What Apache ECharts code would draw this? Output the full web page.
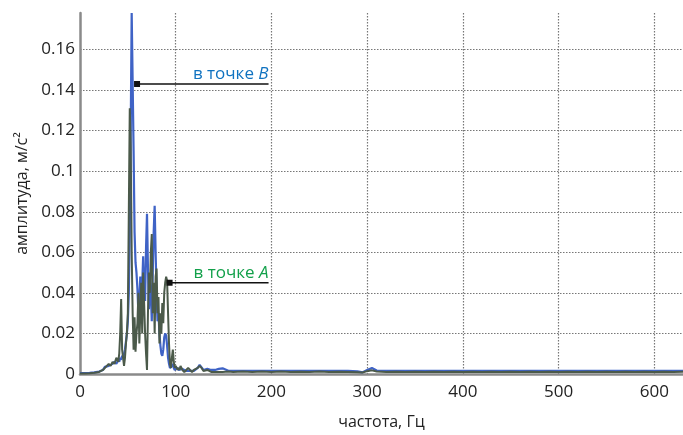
<!DOCTYPE html>
<html>
<head>
<meta charset="utf-8">
<script src="https://cdn.jsdelivr.net/npm/echarts@6/dist/echarts.min.js"></script>
<style>html,body{margin:0;padding:0;background:#fff}#c{width:683px;height:435px}</style>
</head>
<body>
<div id="c"></div>
<script>
// Spectrum at point B (blue): [frequency Hz, amplitude m/s^2]
var pointsB = [
[0,0.0005],[5,0.0005],[10,0.0006],[15,0.0008],[20,0.0012],[22,0.0015],[24,0.002],[26,0.0035],[28,0.003],[30,0.004],[32,0.0035],[34,0.005],[36,0.006],[38,0.005],[40,0.007],
[41,0.006],[42,0.008],[43,0.007],[44,0.009],[45,0.008],[46,0.010],[47,0.012],[48,0.016],[49,0.020],[50,0.026],[51,0.040],[52,0.070],[53,0.120],[54,0.178],[55,0.178],[56,0.110],[57,0.070],[58,0.055],[59,0.050],[60,0.042],[61,0.030],[62,0.036],[63,0.048],[64,0.032],[65,0.044],[66,0.058],[67,0.040],[68,0.036],[69,0.062],[70,0.079],[71,0.052],[72,0.032],[73,0.046],[74,0.040],[75,0.026],[76,0.050],[77,0.070],[78,0.083],[79,0.060],[80,0.040],[81,0.026],[82,0.030],[83,0.020],[84,0.014],[85,0.010],[86,0.009],[87,0.012],[88,0.018],[89,0.020],[90,0.019],[91,0.014],[92,0.008],[93,0.005],[94,0.003],[95,0.003],[96,0.004],[97,0.005],[98,0.003],[99,0.002],[100,0.002],[101,0.002],[102,0.003],[103,0.002],[104,0.0015],[105,0.002],
[107,0.0025],[109,0.002],[111,0.0015],[113,0.002],[115,0.0015],[117,0.002],[119,0.0015],[121,0.002],[123,0.003],[125,0.0045],[127,0.004],[129,0.002],[131,0.0015],[133,0.0025],[135,0.003],[137,0.002],[139,0.0015],[141,0.002],[143,0.002],[145,0.0025],[147,0.003],[149,0.0028],
[155,0.0016],[160,0.0015],[170,0.0015],[180,0.0016],[190,0.0015],[200,0.0015],[210,0.0016],[220,0.0015],[230,0.0015],[240,0.0016],[250,0.0015],[260,0.0016],[270,0.0015],[280,0.0015],[290,0.0013],[295,0.0008],[300,0.002],[305,0.003],[310,0.0017],[320,0.0015],[330,0.0015],[340,0.0015],[350,0.0015],[360,0.0015],[370,0.0015],[380,0.0015],[390,0.0015],[400,0.0015],[410,0.0015],[420,0.0015],[430,0.0015],[440,0.0015],[450,0.0015],[460,0.0015],[470,0.0015],[480,0.0015],[490,0.0015],[500,0.0015],[510,0.0015],[520,0.0015],[530,0.0015],[540,0.0015],[550,0.0015],[560,0.0015],[570,0.0015],[580,0.0015],[590,0.0015],[600,0.0015],[610,0.0015],[620,0.0015],[630,0.0015]
];
// Spectrum at point A (dark green-grey)
var pointsA = [
[0,0.0003],[5,0.0003],[10,0.0004],[15,0.0006],[20,0.001],[22,0.0015],[24,0.002],[26,0.0025],[28,0.004],[30,0.005],[32,0.004],[34,0.006],[36,0.005],[38,0.008],[40,0.006],
[41,0.010],[42,0.020],[43,0.037],[44,0.012],[45,0.008],[46,0.004],[47,0.008],[48,0.015],[49,0.020],[50,0.030],[51,0.080],[52,0.131],[53,0.112],[54,0.060],[55,0.030],[56,0.012],[57,0.028],[58,0.011],[59,0.020],[60,0.025],[61,0.040],[62,0.015],[63,0.030],[64,0.045],[65,0.020],[66,0.050],[67,0.035],[68,0.020],[69,0.010],[70,0.002],[71,0.030],[72,0.050],[73,0.040],[74,0.060],[75,0.069],[76,0.030],[77,0.045],[78,0.020],[79,0.048],[80,0.052],[81,0.030],[82,0.038],[83,0.015],[84,0.030],[85,0.020],[86,0.035],[87,0.025],[88,0.040],[89,0.045],[90,0.048],[91,0.046],[92,0.030],[93,0.015],[94,0.005],[95,0.003],[96,0.008],[97,0.012],[98,0.006],[99,0.003],[100,0.004],[101,0.003],[102,0.002],[103,0.003],[104,0.002],[105,0.004],
[107,0.002],[109,0.001],[111,0.002],[113,0.003],[115,0.002],[117,0.001],[119,0.002],[121,0.0015],[123,0.003],[125,0.004],[127,0.003],[129,0.0015],[131,0.001],[133,0.002],[135,0.0015],[137,0.001],[139,0.0015],[141,0.001],[143,0.0015],[145,0.001],[147,0.0015],[149,0.001],
[155,0.0012],[160,0.001],[170,0.0012],[180,0.001],[190,0.0012],[200,0.001],[210,0.0012],[220,0.001],[230,0.0011],[240,0.001],[250,0.0012],[260,0.001],[270,0.0011],[280,0.001],[290,0.0009],[295,0.0007],[300,0.0014],[305,0.0018],[310,0.0012],[320,0.001],[330,0.0011],[340,0.001],[350,0.0011],[360,0.001],[370,0.0011],[380,0.001],[390,0.0011],[400,0.001],[410,0.0011],[420,0.001],[430,0.0011],[440,0.001],[450,0.0011],[460,0.001],[470,0.0011],[480,0.001],[490,0.0011],[500,0.001],[510,0.0011],[520,0.001],[530,0.0011],[540,0.001],[550,0.0011],[560,0.001],[570,0.0011],[580,0.001],[590,0.0011],[600,0.001],[610,0.0011],[620,0.001],[630,0.0011]
];
// Annotation leader lines: [start point on curve], [end point]
var leaderB = [[59.6,0.143],[197,0.143]];
var leaderA = [[93.6,0.045],[197,0.045]];
var labelB = ['в точке ', 'B'];
var labelA = ['в точке ', 'A'];
var xName = 'частота, Гц';
var yName = 'амплитуда, м/с²';

var FONT = '"Open Sans", "Noto Sans", sans-serif';
var chart = echarts.init(document.getElementById('c'), null, {renderer: 'canvas'});

function leader(pts, text, color) {
  return [{
    type: 'line', data: [{value: pts[0], symbol: 'rect', symbolSize: 6}, {value: pts[1], symbol: 'none'}],
    lineStyle: {color: '#111', width: 1.5}, itemStyle: {color: '#111'},
    silent: true, animation: false, z: 5
  }, {
    type: 'scatter', data: [pts[1]], symbolSize: 0.1, silent: true, animation: false, z: 6,
    itemStyle: {color: color, opacity: 1},
    label: {
      show: true, position: 'top', align: 'right', distance: 1, opacity: 1,
      formatter: '{a|' + text[0] + '}{b|' + text[1] + '}',
      rich: {
        a: {color: color, fontSize: 17, fontFamily: FONT, textBorderWidth: 0},
        b: {color: color, fontSize: 17, fontFamily: FONT, fontStyle: 'italic', textBorderWidth: 0}
      }
    }
  }];
}

var option = {
  animation: false,
  backgroundColor: '#fff',
  grid: {left: 80, right: 0, top: 13, bottom: 58.5, containLabel: false},
  xAxis: {
    type: 'value', min: 0, max: 630, interval: 100,
    name: xName, nameLocation: 'middle', nameGap: 40,
    nameTextStyle: {fontSize: 16, color: '#222', fontFamily: FONT},
    axisLine: {show: true, onZero: false, lineStyle: {color: '#8a8a8a', width: 2.5}},
    axisTick: {show: false},
    axisLabel: {fontSize: 17, color: '#222', fontFamily: FONT, margin: 10, showMaxLabel: false},
    splitLine: {show: true, showMaxLine: false, showMinLine: false, lineStyle: {color: '#777', width: 1.2, type: [1.5, 1.5]}}
  },
  yAxis: {
    type: 'value', min: 0, max: 0.178, interval: 0.02,
    name: yName, nameLocation: 'middle', nameGap: 50,
    nameTextStyle: {fontSize: 16, color: '#222', fontFamily: FONT},
    axisLine: {show: true, lineStyle: {color: '#8a8a8a', width: 2.5}},
    axisTick: {show: false},
    axisLabel: {fontSize: 17, color: '#222', fontFamily: FONT, margin: 5, showMaxLabel: false,
      formatter: function (v) { return String(+v.toFixed(2)); }},
    splitLine: {show: true, showMaxLine: false, showMinLine: false, lineStyle: {color: '#777', width: 1.2, type: [1.5, 1.5]}}
  },
  series: [
    {type: 'line', name: 'A', data: pointsA, showSymbol: false, symbol: 'none',
      lineStyle: {color: '#4b5a4a', width: 2}, z: 3},
    {type: 'line', name: 'B', data: pointsB, showSymbol: false, symbol: 'none',
      lineStyle: {color: '#3f63c6', width: 2.2}, z: 2}
  ].concat(leader(leaderB, labelB, '#0f72c0')).concat(leader(leaderA, labelA, '#12a04a'))
};
chart.setOption(option);
</script>
</body>
</html>
